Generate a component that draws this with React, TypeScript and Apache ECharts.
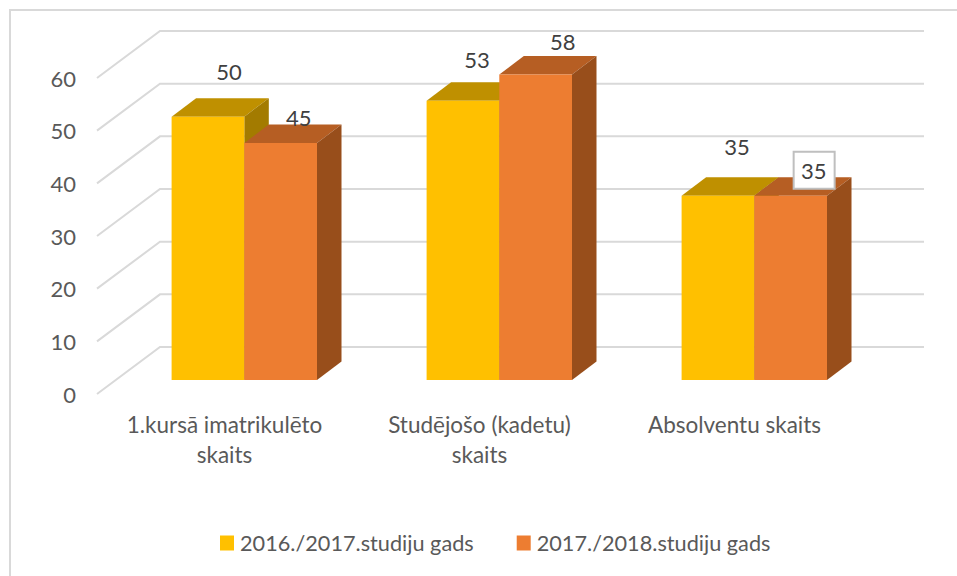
import React, { useEffect, useRef } from "react";
import * as echarts from "echarts";

const categories = ["1.kursā imatrikulēto\nskaits", "Studējošo (kadetu)\nskaits", "Absolventu skaits"];
const seriesNames = ["2016./2017.studiju gads", "2017./2018.studiju gads"];
const values2016 = [50, 53, 35];
const values2017 = [45, 58, 35];
const yTicks = [0, 10, 20, 30, 40, 50, 60];

// Hand-placed data labels of the original: shift from the top centre of each bar's front face.
const labelShift2016 = [[21, -45], [14, -41], [19, -49]];
const labelShift2017 = [[18, -26], [27, -33], [23, -25]];
const boxed2017 = [false, false, true];

const FONT = "Lato";
const WALL_DX = 63, WALL_DY = -47;   // floor depth from front edge to back wall
const BAR_DX = 19.8, BAR_DY = -14;   // where the bars stand on the floor
const DEPTH_DX = 24.5, DEPTH_DY = -18.5; // depth of a bar
const BAR_W = 72.7;

const barSeries = (
  name: string,
  values: number[],
  slot: number,
  colors: { front: string; top: string; side: string },
  shifts: number[][],
  boxed: boolean[],
  z: number
) => ({
  type: "custom",
  name,
  z,
  itemStyle: { color: colors.front },
  data: values.map((v, i) => [i, v]),
  encode: { x: 0, y: 1 },
  renderItem: (_p: any, api: any) => {
    const i = api.value(0);
    const v = api.value(1);
    const top = api.coord([i, v]);
    const base = api.coord([i, 0]);
    const x0 = top[0] + BAR_DX + (slot - 1) * BAR_W;
    const x1 = x0 + BAR_W;
    const yt = top[1] + BAR_DY;
    const yb = base[1] + BAR_DY;
    const sh = shifts[i];
    const isBoxed = boxed[i];
    return {
      type: "group",
      children: [
        {
          type: "polygon",
          shape: { points: [[x0, yt], [x0 + DEPTH_DX, yt + DEPTH_DY], [x1 + DEPTH_DX, yt + DEPTH_DY], [x1, yt]] },
          style: { fill: colors.top },
        },
        {
          type: "polygon",
          shape: { points: [[x1, yt], [x1 + DEPTH_DX, yt + DEPTH_DY], [x1 + DEPTH_DX, yb + DEPTH_DY], [x1, yb]] },
          style: { fill: colors.side },
        },
        { type: "rect", shape: { x: x0, y: yt, width: BAR_W, height: yb - yt }, style: { fill: colors.front } },
        ...(isBoxed
          ? [{
              type: "rect",
              shape: { x: (x0 + x1) / 2 + sh[0] - 20, y: yt + sh[1] - 19, width: 41, height: 37 },
              style: { fill: "#ffffff", stroke: "#bfbfbf", lineWidth: 2 },
            }]
          : []),
        {
          type: "text",
          x: (x0 + x1) / 2 + sh[0],
          y: yt + sh[1],
          style: {
            text: String(v),
            fill: "#404040",
            font: `22px ${FONT}`,
            align: "center",
            verticalAlign: "middle",
          },
        },
      ],
    };
  },
});

const option = {
  animation: false,
  backgroundColor: "#ffffff",
  textStyle: { fontFamily: FONT },
  grid: { left: 97, right: 95, top: 78, bottom: 182, containLabel: false },
  xAxis: {
    type: "category",
    data: categories,
    axisLine: { show: false },
    axisTick: { show: false },
    splitLine: { show: false },
    axisLabel: {
      color: "#595959",
      fontFamily: FONT,
      fontSize: 22.5,
      lineHeight: 30,
      margin: 15,
      interval: 0,
    },
  },
  yAxis: {
    type: "value",
    min: 0,
    max: 60,
    interval: 10,
    axisLine: { show: false },
    axisTick: { show: false },
    splitLine: { show: false },
    axisLabel: { color: "#595959", fontFamily: FONT, fontSize: 22, margin: 21, padding: [3, 0, 0, 0] },
  },
  legend: {
    data: seriesNames,
    left: 220,
    top: 532,
    padding: 0,
    icon: "rect",
    itemWidth: 14,
    itemHeight: 15,
    itemGap: 43,
    selectedMode: false,
    textStyle: { color: "#595959", fontFamily: FONT, fontSize: 21.7, padding: [0, 0, 0, 1] },
  },
  graphic: [
    {
      type: "polyline",
      shape: { points: [[10, 576], [10, 10], [957, 10]] },
      style: { fill: "none", stroke: "#d9d9d9", lineWidth: 2 },
      silent: true,
    },
  ],
  series: [
    {
      type: "custom",
      name: "grid",
      z: 1,
      silent: true,
      data: yTicks.map((t) => [0, t]),
      encode: { x: 0, y: 1 },
      renderItem: (params: any, api: any) => {
        const y = api.coord([0, api.value(1)])[1];
        const cs = params.coordSys;
        return {
          type: "polyline",
          shape: {
            points: [
              [cs.x, y],
              [cs.x + WALL_DX, y + WALL_DY],
              [cs.x + cs.width + WALL_DX - 1, y + WALL_DY],
            ],
          },
          style: { fill: "none", stroke: "#d9d9d9", lineWidth: 2 },
        };
      },
    },
    barSeries(seriesNames[0], values2016, 0, { front: "#FFC000", top: "#BF9000", side: "#A37B00" }, labelShift2016, [false, false, false], 2),
    barSeries(seriesNames[1], values2017, 1, { front: "#ED7D31", top: "#B65E23", side: "#984E1B" }, labelShift2017, boxed2017, 3),
  ],
};

export default function App() {
  const ref = useRef<HTMLDivElement>(null);
  useEffect(() => {
    document.body.style.margin = "0";
    const chart = echarts.init(ref.current!, undefined, { renderer: "svg" });
    chart.setOption(option as any);
    return () => chart.dispose();
  }, []);
  return <div ref={ref} style={{ position: "absolute", left: 0, top: 0, width: 957, height: 576 }} />;
}
